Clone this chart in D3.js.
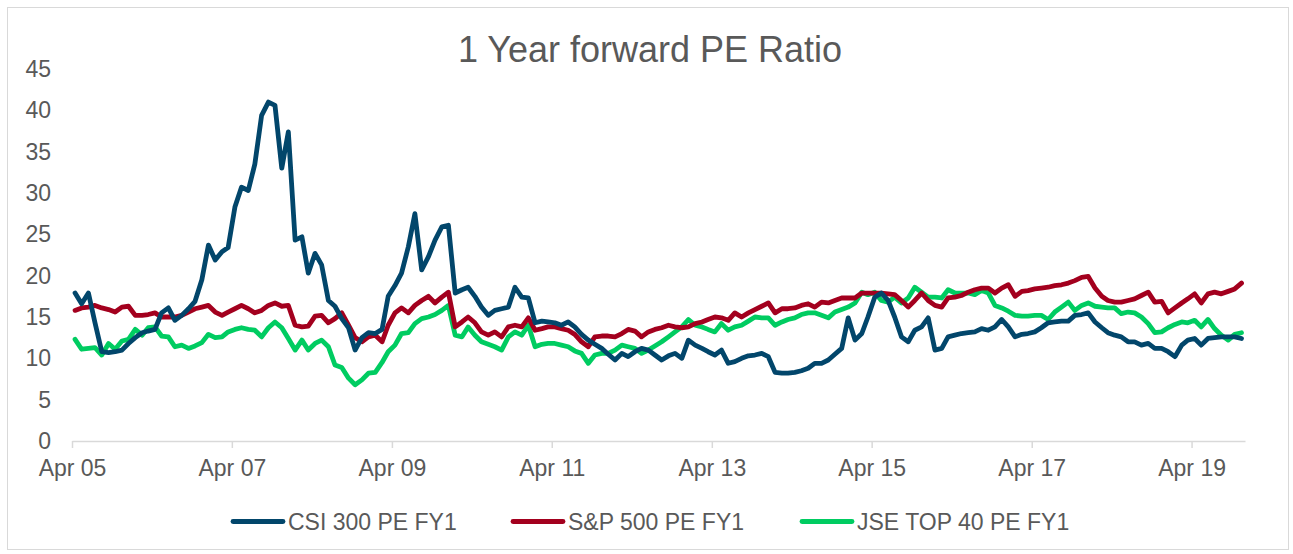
<!DOCTYPE html>
<meta charset="utf-8">
<style>
  body { margin: 0; background: #fff; }
  text { font-family: "Liberation Sans", Arial, sans-serif; fill: #595959; }
</style>
<script src="https://d3js.org/d3.v7.min.js"></script>
<svg id="chart" width="1293" height="554"></svg>
<script>
  // Data: monthly, Apr 2005 .. Nov 2019
  var firstMonth = new Date(2005, 3, 1);

  var seriesNames = ["CSI 300 PE FY1", "S&P 500 PE FY1", "JSE TOP 40 PE FY1"];
  var seriesColors = ["#02466b", "#a3001e", "#00cc61"];

  var csi300 = [
    17.9, 16.6, 17.9, 14.3, 10.8, 10.7, 10.8, 11.0, 11.8, 12.5,
    13.1, 13.3, 13.5, 15.5, 16.1, 14.6, 15.2, 16.0, 16.9, 19.5,
    23.7, 21.9, 22.9, 23.4, 28.3, 30.7, 30.3, 33.5, 39.4, 41.0,
    40.6, 33.0, 37.4, 24.3, 24.7, 20.3, 22.7, 21.3, 17.0, 16.3,
    14.8, 13.7, 11.0, 12.5, 13.1, 13.0, 13.5, 17.5, 18.8, 20.3,
    23.5, 27.5, 20.7, 22.3, 24.3, 25.9, 26.1, 17.9, 18.3, 18.6,
    17.5, 16.2, 15.2, 15.8, 16.0, 16.2, 18.6, 17.4, 17.3, 14.3,
    14.5, 14.4, 14.3, 14.0, 14.4, 13.8, 12.9, 12.2, 11.7, 11.2,
    10.5, 9.8, 10.6, 10.2, 10.8, 11.2, 11.0, 10.4, 9.8, 10.3,
    10.6, 10.0, 12.2, 11.6, 11.2, 10.8, 10.4, 11.0, 9.4, 9.6,
    10.0, 10.3, 10.4, 10.6, 10.2, 8.3, 8.2, 8.2, 8.3, 8.5,
    8.8, 9.4, 9.4, 9.8, 10.5, 11.2, 14.9, 12.2, 13.0, 15.0,
    17.4, 17.9, 17.0, 15.0, 12.6, 12.0, 13.4, 13.8, 14.9, 11.0,
    11.2, 12.6, 12.8, 13.0, 13.1, 13.2, 13.6, 13.4, 13.8, 14.7,
    13.8, 12.6, 12.9, 13.0, 13.2, 13.7, 14.3, 14.4, 14.5, 14.5,
    15.2, 15.3, 15.5, 14.4, 13.7, 13.1, 12.8, 12.6, 12.0, 12.0,
    11.6, 11.8, 11.2, 11.2, 10.8, 10.2, 11.6, 12.2, 12.4, 11.6,
    12.4, 12.5, 12.6, 12.6, 12.6, 12.4
  ];

  var sp500 = [
    15.8, 16.1, 16.2, 16.4, 16.1, 15.9, 15.6, 16.2, 16.3, 15.2,
    15.2, 15.3, 15.5, 15.0, 15.0, 15.0, 15.2, 15.6, 16.0, 16.2,
    16.4, 15.6, 15.2, 15.6, 16.0, 16.4, 16.0, 15.5, 15.8, 16.4,
    16.7, 16.3, 16.4, 14.0, 13.8, 13.9, 15.1, 15.2, 14.3, 14.8,
    15.5, 14.0, 12.5, 12.0, 12.6, 12.8, 12.0, 14.0, 15.5, 16.1,
    15.5, 16.4, 17.0, 17.5, 16.7, 17.4, 18.0, 13.8, 14.4, 15.0,
    14.3, 13.2, 12.8, 13.2, 12.6, 13.8, 14.0, 13.8, 14.9, 13.4,
    13.6, 13.8, 13.8, 13.6, 13.4, 12.9, 12.0, 11.4, 12.6, 12.7,
    12.7, 12.6, 13.0, 13.5, 13.3, 12.6, 13.2, 13.5, 13.7, 14.0,
    13.8, 13.7, 13.8, 14.2, 14.4, 14.7, 15.0, 14.9, 14.6, 15.5,
    15.0, 15.5, 15.9, 16.3, 16.7, 15.5, 16.0, 16.0, 16.1, 16.4,
    16.6, 16.2, 16.8, 16.7, 17.0, 17.3, 17.3, 17.3, 17.9, 17.9,
    17.9, 17.9, 17.8, 17.7, 17.0, 16.2, 17.0, 17.9, 17.0, 16.4,
    16.2, 17.3, 17.4, 17.6, 18.0, 18.3, 18.5, 18.5, 17.9, 18.5,
    18.9, 17.5, 18.1, 18.2, 18.4, 18.5, 18.6, 18.8, 18.9, 19.1,
    19.4, 19.8, 19.9, 18.5, 17.5, 17.0, 16.8, 16.8, 17.0, 17.2,
    17.6, 18.0, 16.8, 16.9, 15.5, 16.1, 16.7, 17.2, 17.8, 16.7,
    17.8, 18.0, 17.8, 18.1, 18.4, 19.1
  ];

  var jseTop40 = [
    12.3, 11.1, 11.2, 11.3, 10.4, 11.8, 11.1, 12.1, 12.3, 13.5,
    12.8, 13.7, 13.8, 12.7, 12.6, 11.4, 11.6, 11.2, 11.5, 11.9,
    12.9, 12.5, 12.6, 13.2, 13.5, 13.7, 13.5, 13.4, 12.6, 13.7,
    14.4, 13.7, 12.4, 11.0, 12.2, 11.0, 11.8, 12.2, 11.4, 9.2,
    8.9, 7.6, 6.8, 7.4, 8.2, 8.3, 9.5, 10.8, 11.6, 13.0,
    13.1, 14.2, 14.8, 15.0, 15.3, 15.8, 16.4, 12.8, 12.6, 13.8,
    12.8, 12.0, 11.7, 11.4, 11.0, 12.6, 13.2, 12.8, 14.0, 11.4,
    11.7, 11.8, 11.8, 11.6, 11.4, 10.9, 10.6, 9.4, 10.4, 10.6,
    10.6, 11.0, 11.6, 11.4, 11.2, 10.6, 11.0, 11.5, 12.0, 12.6,
    13.2, 13.8, 14.7, 14.0, 13.8, 13.5, 13.2, 14.2, 13.4, 13.8,
    14.0, 14.5, 15.0, 14.9, 14.9, 14.0, 14.4, 14.7, 14.9, 15.3,
    15.5, 15.5, 15.2, 14.9, 15.6, 15.9, 16.2, 16.7, 18.0, 17.7,
    18.0, 17.0, 16.8, 17.4, 16.7, 17.3, 18.6, 18.0, 17.4, 17.4,
    17.3, 18.3, 17.9, 17.9, 17.9, 17.7, 18.2, 17.9, 16.4, 16.1,
    15.7, 15.2, 15.1, 15.1, 15.2, 15.2, 14.7, 15.6, 16.2, 16.8,
    15.8, 16.4, 16.7, 16.3, 16.2, 16.1, 16.1, 15.4, 15.6, 15.5,
    15.0, 14.2, 13.1, 13.2, 13.7, 14.1, 14.4, 14.3, 14.6, 13.8,
    14.7, 13.6, 12.8, 12.2, 12.9, 13.1
  ];

  var yTicks = [0, 5, 10, 15, 20, 25, 30, 35, 40, 45];

  var svg = d3.select("#chart");

  // frame
  svg.append("rect")
    .attr("x", 7.5).attr("y", 7.5)
    .attr("width", 1281).attr("height", 542)
    .attr("fill", "none")
    .attr("stroke", "#d9d9d9");

  // scales
  var x = d3.scaleTime()
    .domain([new Date(2005, 3, 1), new Date(2019, 11, 1)])
    .range([72, 1245]);
  var y = d3.scaleLinear().domain([0, 45]).range([441, 69]);

  // title
  svg.append("text")
    .attr("x", 650).attr("y", 62)
    .attr("text-anchor", "middle")
    .style("font-size", "36px")
    .text("1 Year forward PE Ratio");

  // y labels
  svg.append("g").selectAll("text")
    .data(yTicks)
    .enter().append("text")
    .attr("x", 51)
    .attr("y", d => y(d))
    .attr("dy", "0.35em")
    .attr("text-anchor", "end")
    .style("font-size", "23px")
    .text(d => d);

  // x axis
  var xTickDates = d3.range(2005, 2020, 2).map(yr => new Date(yr, 3, 1));
  var xAxis = svg.append("g")
    .attr("transform", "translate(0,441)")
    .call(d3.axisBottom(x)
      .tickValues(xTickDates)
      .tickSize(7)
      .tickSizeOuter(0)
      .tickPadding(12)
      .tickFormat(d3.timeFormat("%b %y")));
  xAxis.select(".domain").attr("stroke", "#d9d9d9").attr("stroke-width", 1.5);
  xAxis.selectAll(".tick line").attr("stroke", "#d9d9d9").attr("stroke-width", 1.5);
  xAxis.selectAll(".tick text")
    .style("font-size", "23px")
    .style("font-family", "'Liberation Sans', Arial, sans-serif")
    .attr("fill", "#595959");

  // lines
  var dateOf = i => d3.timeDay.offset(d3.timeMonth.offset(firstMonth, i), 14);
  var line = d3.line()
    .x((d, i) => x(dateOf(i)))
    .y(d => y(d));

  var allSeries = [csi300, sp500, jseTop40];
  // draw CSI last so it sits on top where lines cross
  [2, 1, 0].forEach(function(k) {
    svg.append("path")
      .datum(allSeries[k])
      .attr("d", line)
      .attr("fill", "none")
      .attr("stroke", seriesColors[k])
      .attr("stroke-width", 4.8)
      .attr("stroke-linejoin", "round")
      .attr("stroke-linecap", "round");
  });

  // legend
  var legendX = [231, 511, 800];
  var legend = svg.append("g").selectAll("g")
    .data(seriesNames)
    .enter().append("g")
    .attr("transform", (d, i) => "translate(" + legendX[i] + ",521.5)");
  legend.append("line")
    .attr("x1", 2).attr("x2", 52)
    .attr("stroke", (d, i) => seriesColors[i])
    .attr("stroke-width", 4.8)
    .attr("stroke-linecap", "round");
  legend.append("text")
    .attr("x", 57)
    .attr("dy", "0.35em")
    .style("font-size", "23px")
    .text(d => d);
</script>
